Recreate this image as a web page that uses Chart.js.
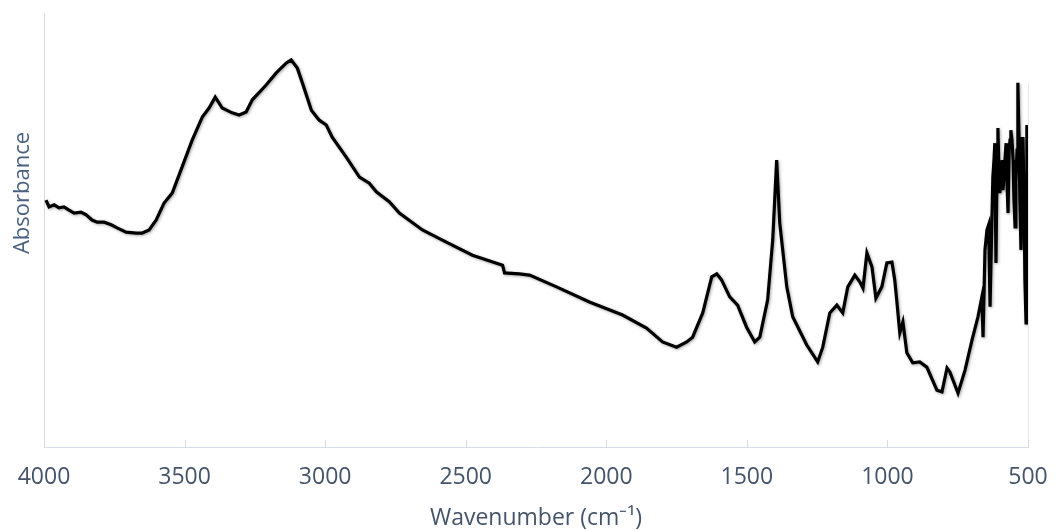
<!DOCTYPE html>
<html>
<head>
<meta charset="utf-8">
<script src="https://cdn.jsdelivr.net/npm/chart.js@4"></script>
<style>
  html, body { margin: 0; padding: 0; background: #fff; }
  #wrap { width: 1056px; height: 530px; }
</style>
</head>
<body>
<div id="wrap"><canvas id="myChart"></canvas></div>
<script>
// wavenumbers (cm-1)
const wavenumbers = [
  3993, 3982, 3964, 3947, 3929, 3911, 3893, 3868, 3850, 3829, 3811, 3786, 3761, 3740,
  3708, 3672, 3651, 3626, 3601, 3573, 3544, 3509, 3473, 3437, 3413, 3391, 3366, 3331,
  3306, 3281, 3259, 3210, 3174, 3138, 3121, 3099, 3081, 3049, 3021, 2996, 2975, 2925,
  2878, 2843, 2818, 2772, 2736, 2654, 2569, 2476, 2369, 2362, 2309, 2273, 2177, 2060,
  1942, 1857, 1800, 1750, 1714, 1693, 1657, 1625, 1607, 1590, 1561, 1533, 1501, 1472,
  1454, 1426, 1408, 1394, 1383, 1358, 1337, 1287, 1248, 1230, 1205, 1180, 1159, 1141,
  1116, 1098, 1087, 1073, 1055, 1041, 1020, 1002, 984, 974, 967, 956, 945, 931, 910,
  885, 860, 824, 806, 788, 778, 749, 724, 699, 678, 664, 660, 653, 646, 640, 635, 630,
  625, 621, 618, 614, 610, 607, 603, 600, 596, 592, 589, 585, 582, 578, 575, 571, 567,
  564, 561, 557, 553, 550, 546, 543, 539, 536, 532, 529, 525, 521, 518, 514, 511, 507,
  504, 502, 500
];
// absorbance (arbitrary units)
const absorbance = [
  0.569, 0.553, 0.558, 0.551, 0.553, 0.546, 0.539, 0.541, 0.535, 0.523, 0.518, 0.518, 0.512, 0.505,
  0.495, 0.493, 0.493, 0.500, 0.523, 0.562, 0.585, 0.645, 0.707, 0.760, 0.781, 0.806, 0.781, 0.770,
  0.765, 0.772, 0.800, 0.834, 0.862, 0.885, 0.892, 0.873, 0.839, 0.776, 0.753, 0.742, 0.714, 0.668,
  0.622, 0.608, 0.588, 0.565, 0.539, 0.500, 0.472, 0.442, 0.419, 0.401, 0.399, 0.396, 0.369, 0.334,
  0.304, 0.274, 0.242, 0.230, 0.242, 0.253, 0.309, 0.392, 0.399, 0.385, 0.346, 0.327, 0.276, 0.242,
  0.253, 0.339, 0.477, 0.661, 0.516, 0.369, 0.300, 0.235, 0.196, 0.230, 0.309, 0.327, 0.309, 0.369,
  0.396, 0.380, 0.366, 0.447, 0.415, 0.343, 0.369, 0.424, 0.426, 0.385, 0.339, 0.263, 0.288, 0.217, 0.194,
  0.196, 0.184, 0.131, 0.127, 0.182, 0.173, 0.124, 0.177, 0.247, 0.300, 0.346, 0.253, 0.454, 0.500, 0.512, 0.323, 0.477,
  0.622, 0.661, 0.700, 0.424, 0.661, 0.735, 0.627, 0.585, 0.638, 0.661, 0.592, 0.627, 0.661, 0.700, 0.615, 0.539, 0.684,
  0.707, 0.730, 0.707, 0.661, 0.569, 0.507, 0.615, 0.684, 0.839, 0.714, 0.569, 0.454, 0.592, 0.714, 0.569, 0.385, 0.286,
  0.742, 0.569, 0.327
];
const tickValues = [4000, 3500, 3000, 2500, 2000, 1500, 1000, 500];

const axisColor = '#d5dce6';
const textColor = '#44546a';

const points = wavenumbers.map((w, i) => ({ x: w, y: absorbance[i] }));

// short tick marks pointing into the plot, faint right edge, y-axis caption
const decor = {
  id: 'decor',
  beforeDatasetsDraw(chart) {
    const ctx = chart.ctx;
    const xs = chart.scales.x;
    const ys = chart.scales.y;
    const area = chart.chartArea;
    const px = Math.round(xs.getPixelForValue(500)) + 0.5;
    ctx.save();
    ctx.strokeStyle = '#e6e8ec';
    ctx.lineWidth = 1;
    ctx.beginPath();
    ctx.moveTo(px, ys.getPixelForValue(0.84));
    ctx.lineTo(px, area.bottom);
    ctx.stroke();
    ctx.restore();
  },
  afterDraw(chart) {
    const ctx = chart.ctx;
    const xs = chart.scales.x;
    const area = chart.chartArea;
    ctx.save();
    ctx.strokeStyle = axisColor;
    ctx.lineWidth = 1;
    tickValues.forEach(v => {
      const px = Math.round(xs.getPixelForValue(v)) + 0.5;
      ctx.beginPath();
      ctx.moveTo(px, area.bottom);
      ctx.lineTo(px, area.bottom - 7);
      ctx.stroke();
    });
    ctx.translate(23, 193);
    ctx.rotate(-Math.PI / 2);
    ctx.fillStyle = '#4a6282';
    ctx.font = '22px "Open Sans"';
    ctx.textAlign = 'center';
    ctx.textBaseline = 'middle';
    ctx.fillText('Absorbance', 0, 0);
    ctx.restore();
  }
};

const shadow = {
  id: 'shadow',
  beforeDatasetsDraw(chart) {
    const ctx = chart.ctx;
    ctx.save();
    ctx.shadowColor = 'rgba(0,0,0,0.35)';
    ctx.shadowBlur = 3;
    ctx.shadowOffsetX = 1;
    ctx.shadowOffsetY = 1;
  },
  afterDatasetsDraw(chart) {
    chart.ctx.restore();
  }
};

const ctx = document.getElementById('myChart').getContext('2d');
const myChart = new Chart(ctx, {
  type: 'line',
  data: {
    datasets: [{
      data: points,
      borderColor: '#000',
      borderWidth: 3.2,
      pointRadius: 0,
      tension: 0,
      fill: false
    }]
  },
  options: {
    responsive: true,
    maintainAspectRatio: false,
    animation: false,
    layout: { padding: { left: 44, right: 28, top: 13, bottom: 0 } },
    plugins: {
      legend: { display: false },
      tooltip: { enabled: false }
    },
    scales: {
      x: {
        type: 'linear',
        reverse: true,
        min: 500,
        max: 4000,
        grid: { display: false, drawTicks: false },
        border: { display: true, color: axisColor, width: 1 },
        afterBuildTicks: axis => { axis.ticks = tickValues.map(v => ({ value: v })); },
        afterFit: scale => {
          scale.height = 83;
          scale.paddingLeft = 0;
          scale.paddingRight = 0;
        },
        ticks: {
          color: textColor,
          font: { family: 'Open Sans', size: 23 },
          padding: 17,
          maxRotation: 0,
          autoSkip: false,
          callback: v => String(v)
        },
        title: {
          display: true,
          text: 'Wavenumber (cm⁻¹)',
          color: textColor,
          font: { family: 'Open Sans', size: 23, lineHeight: 1 },
          padding: { top: 0, bottom: 0 }
        }
      },
      y: {
        min: 0,
        max: 1,
        grid: { display: false, drawTicks: false },
        border: { display: true, color: axisColor, width: 1 },
        ticks: { display: false }
      }
    }
  },
  plugins: [decor, shadow]
});
</script>
</body>
</html>
